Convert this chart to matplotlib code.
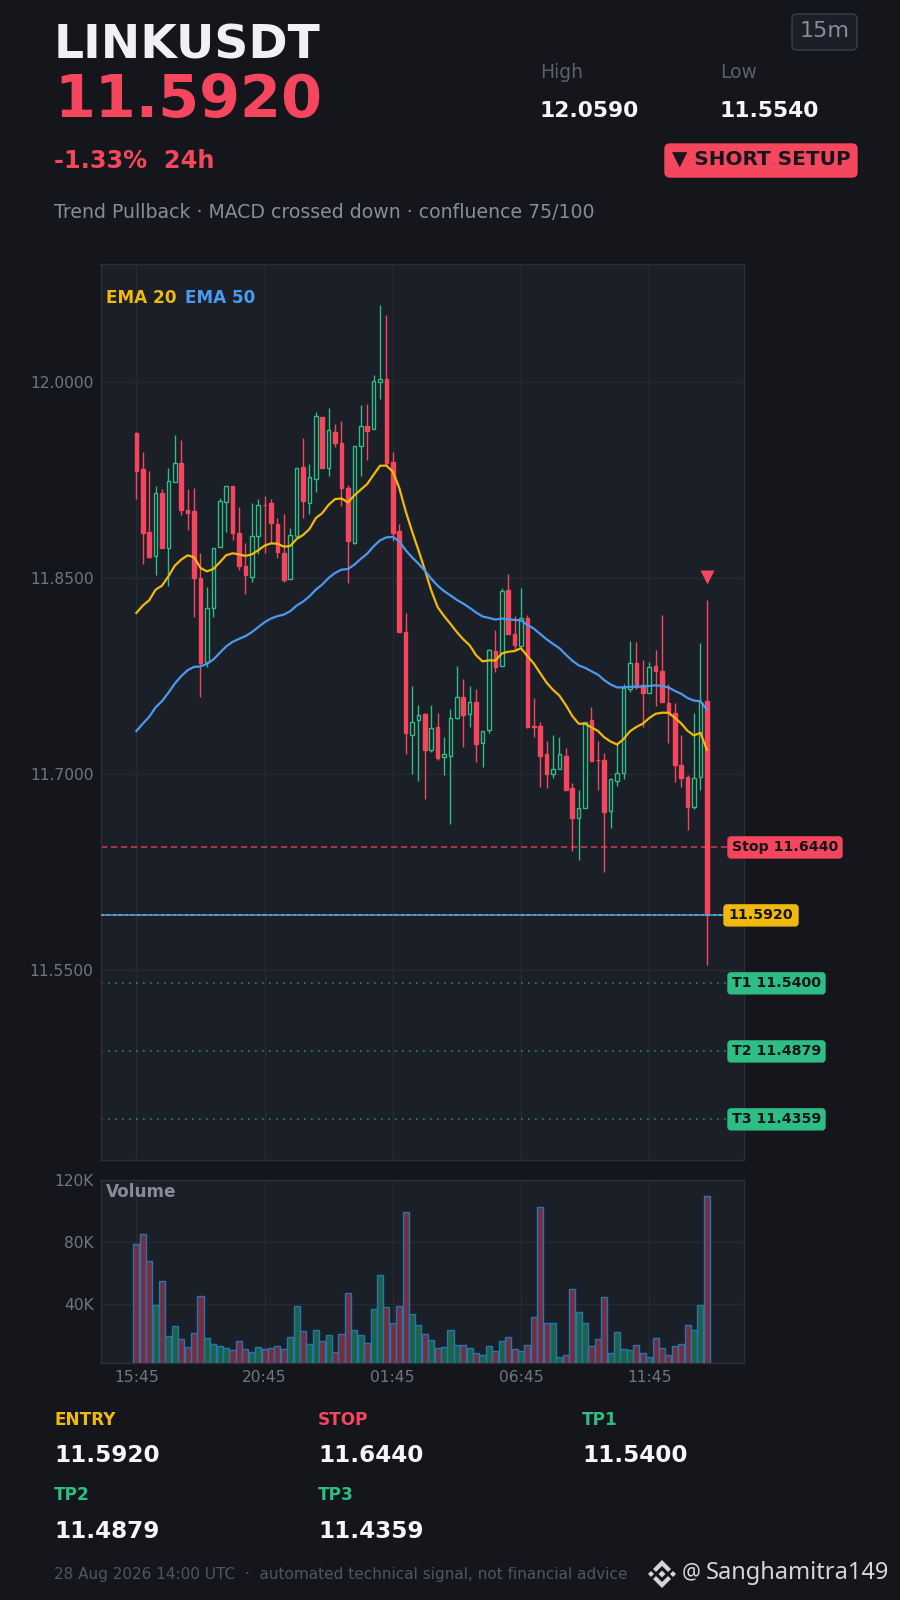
import matplotlib
matplotlib.use("Agg")
import matplotlib.pyplot as plt
from matplotlib.patches import FancyBboxPatch, Polygon
import numpy as np

symbol = "LINKUSDT"
last_price = 11.5920
entry_price = 11.5920
stop_price = 11.6440
targets = [11.5400, 11.4879, 11.4359]

opens = [11.9613, 11.9335, 11.8857, 11.8668, 11.9155, 11.8732, 11.9236, 11.9384, 11.9025, 11.9014,
         11.8503, 11.7858, 11.8273, 11.8737, 11.9083, 11.9206, 11.8846, 11.8594, 11.8508, 11.8823,
         11.9063, 11.9076, 11.8915, 11.8694, 11.8495, 11.8821, 11.9351, 11.9073, 11.9259, 11.9735,
         11.9343, 11.9618, 11.9534, 11.9190, 11.8767, 11.9511, 11.9664, 11.9639, 12.0000, 12.0023,
         11.9389, 11.8860, 11.8088, 11.7299, 11.7414, 11.7458, 11.7185, 11.7365, 11.7133, 11.7141,
         11.7430, 11.7591, 11.7460, 11.7553, 11.7239, 11.7340, 11.7943, 11.7826, 11.8410, 11.8074,
         11.7979, 11.8197, 11.7370, 11.7370, 11.7157, 11.7002, 11.7043, 11.7141, 11.6898, 11.6669,
         11.6745, 11.7417, 11.7111, 11.7111, 11.6721, 11.6950, 11.7010, 11.7651, 11.7853, 11.7684,
         11.7621, 11.7829, 11.7791, 11.7548, 11.7469, 11.7073, 11.6983, 11.6751, 11.6983, 11.7561]
closes = [11.9318, 11.8844, 11.8660, 11.9152, 11.8729, 11.9244, 11.9381, 11.9020, 11.8997, 11.8500,
          11.7848, 11.8273, 11.8732, 11.9091, 11.9206, 11.8844, 11.8592, 11.8523, 11.8823, 11.9060,
          11.9058, 11.8920, 11.8699, 11.8490, 11.8831, 11.9343, 11.9088, 11.9274, 11.9740, 11.9341,
          11.9633, 11.9539, 11.9188, 11.8783, 11.9511, 11.9664, 11.9631, 12.0008, 12.0023, 11.9386,
          11.8849, 11.8088, 11.7316, 11.7400, 11.7455, 11.7185, 11.7357, 11.7125, 11.7157, 11.7433,
          11.7591, 11.7452, 11.7553, 11.7234, 11.7332, 11.7952, 11.7821, 11.8402, 11.8074, 11.7987,
          11.8197, 11.7365, 11.7362, 11.7138, 11.7002, 11.7043, 11.7157, 11.6879, 11.6666, 11.6745,
          11.7398, 11.7100, 11.7106, 11.6712, 11.6966, 11.7010, 11.7660, 11.7853, 11.7670, 11.7621,
          11.7821, 11.7788, 11.7553, 11.7469, 11.7070, 11.6972, 11.6751, 11.6972, 11.7556, 11.5920]
highs = [11.9618, 11.9470, 11.9318, 11.9203, 11.9183, 11.9341, 11.9600, 11.9562, 11.9183, 11.9188,
         11.8694, 11.8431, 11.8732, 11.9111, 11.9206, 11.9206, 11.9043, 11.8767, 11.9073, 11.9106,
         11.9127, 11.9106, 11.8961, 11.8989, 11.8882, 11.9343, 11.9577, 11.9371, 11.9776, 11.9735,
         11.9807, 11.9679, 11.9700, 11.9211, 11.9511, 11.9830, 11.9837, 12.0054, 12.0590, 12.0517,
         11.9465, 11.8915, 11.8233, 11.7676, 11.7529, 11.7469, 11.7529, 11.7469, 11.7283, 11.7496,
         11.7829, 11.7728, 11.7676, 11.7651, 11.7332, 11.7957, 11.8102, 11.8424, 11.8533, 11.8211,
         11.8424, 11.8216, 11.7583, 11.7398, 11.7256, 11.7299, 11.7283, 11.7201, 11.6934, 11.6879,
         11.7403, 11.7512, 11.7256, 11.7163, 11.6972, 11.7242, 11.7690, 11.8017, 11.8009, 11.7875,
         11.7856, 11.7949, 11.8216, 11.7690, 11.7545, 11.7299, 11.6996, 11.7469, 11.8003, 11.8334]
lows = [11.9106, 11.8609, 11.8655, 11.8525, 11.8729, 11.8444, 11.9236, 11.8981, 11.8869, 11.8205,
        11.7593, 11.7822, 11.8205, 11.8737, 11.8854, 11.8793, 11.8561, 11.8380, 11.8472, 11.8686,
        11.8694, 11.8770, 11.8655, 11.8472, 11.8495, 11.8808, 11.8961, 11.8992, 11.9160, 11.9341,
        11.9282, 11.9504, 11.9053, 11.8464, 11.8762, 11.9282, 11.9404, 11.9639, 11.9870, 11.9369,
        11.8784, 11.8088, 11.7157, 11.7005, 11.6950, 11.6813, 11.7174, 11.7108, 11.6994, 11.6622,
        11.7425, 11.7212, 11.7365, 11.7092, 11.7059, 11.7316, 11.7782, 11.7826, 11.8074, 11.7952,
        11.7979, 11.7351, 11.7288, 11.6906, 11.6895, 11.6975, 11.7037, 11.6879, 11.6410, 11.6347,
        11.6745, 11.7100, 11.6882, 11.6251, 11.6592, 11.6912, 11.6966, 11.7632, 11.7651, 11.7365,
        11.7621, 11.7523, 11.7553, 11.7242, 11.6944, 11.6906, 11.6573, 11.6737, 11.6882, 11.5540]
ema20 = [11.8235, 11.8291, 11.8332, 11.8413, 11.8444, 11.8515, 11.8597, 11.8643, 11.8676, 11.8660,
         11.8579, 11.8553, 11.8571, 11.8622, 11.8676, 11.8691, 11.8683, 11.8671, 11.8683, 11.8714,
         11.8750, 11.8767, 11.8765, 11.8742, 11.8747, 11.8801, 11.8831, 11.8877, 11.8961, 11.8999,
         11.9063, 11.9106, 11.9111, 11.9081, 11.9134, 11.9178, 11.9221, 11.9292, 11.9361, 11.9363,
         11.9316, 11.9193, 11.9016, 11.8860, 11.8716, 11.8566, 11.8407, 11.8279, 11.8211, 11.8151,
         11.8088, 11.8033, 11.7987, 11.7911, 11.7864, 11.7872, 11.7870, 11.7924, 11.7938, 11.7943,
         11.7965, 11.7905, 11.7848, 11.7774, 11.7701, 11.7646, 11.7602, 11.7529, 11.7447, 11.7387,
         11.7387, 11.7359, 11.7332, 11.7283, 11.7250, 11.7228, 11.7269, 11.7329, 11.7362, 11.7387,
         11.7430, 11.7463, 11.7471, 11.7471, 11.7433, 11.7389, 11.7332, 11.7297, 11.7318, 11.7187]
ema50 = [11.7331, 11.7387, 11.7440, 11.7512, 11.7560, 11.7624, 11.7695, 11.7751, 11.7797, 11.7822,
         11.7825, 11.7845, 11.7878, 11.7929, 11.7978, 11.8013, 11.8036, 11.8057, 11.8087, 11.8126,
         11.8164, 11.8192, 11.8210, 11.8222, 11.8248, 11.8291, 11.8322, 11.8362, 11.8413, 11.8452,
         11.8503, 11.8541, 11.8566, 11.8571, 11.8604, 11.8648, 11.8688, 11.8744, 11.8790, 11.8813,
         11.8817, 11.8784, 11.8716, 11.8661, 11.8612, 11.8558, 11.8497, 11.8443, 11.8402, 11.8369,
         11.8334, 11.8306, 11.8274, 11.8238, 11.8208, 11.8197, 11.8184, 11.8192, 11.8186, 11.8181,
         11.8178, 11.8143, 11.8115, 11.8074, 11.8033, 11.7998, 11.7965, 11.7916, 11.7870, 11.7834,
         11.7815, 11.7788, 11.7763, 11.7720, 11.7687, 11.7665, 11.7665, 11.7670, 11.7670, 11.7673,
         11.7676, 11.7681, 11.7676, 11.7665, 11.7638, 11.7616, 11.7583, 11.7564, 11.7559, 11.7496]
volumes = [78500, 85160, 67740, 39355, 54840, 19355, 25805, 17420, 12260, 21290,
           45160, 18065, 14195, 12900, 11615, 10325, 16130, 10970, 9035, 12260,
           10970, 11615, 12900, 10970, 18710, 38710, 22580, 14195, 23225, 16130,
           20000, 9035, 20645, 47095, 23225, 20000, 14840, 36775, 58710, 38065,
           27740, 38710, 99355, 33550, 26450, 20645, 16775, 11615, 12260, 23225,
           13550, 13550, 11615, 8385, 7095, 12900, 9680, 16130, 18710, 10970,
           9680, 13550, 31615, 102580, 27740, 27740, 5805, 7095, 49675, 34840,
           27740, 12900, 17420, 44515, 8385, 21935, 10970, 10325, 13550, 8385,
           5805, 18065, 11615, 7095, 12900, 14195, 26450, 23225, 39355, 109675]
time_ticks = [0, 20, 40, 60, 80]
time_labels = ["15:45", "20:45", "01:45", "06:45", "11:45"]
price_ticks = [11.55, 11.70, 11.85, 12.00]
volume_ticks = [40000, 80000, 120000]
volume_labels = ["40K", "80K", "120K"]

BG = "#14161b"
PANEL = "#1b1f28"
GRID = "#262a33"
RED = "#f6465d"
GREEN = "#2ebd85"
YELLOW = "#f0b90b"
BLUE = "#4a9af0"
MUTED = "#6f7682"

W, H = 900, 1600

def fx(x):
    return x / W

def fy(y):
    return 1 - y / H

def txt(fig, x, y, s, color, size, weight="normal", ha="left", family="DejaVu Sans"):
    fig.text(fx(x), fy(y), s, color=color, fontsize=size, fontweight=weight, ha=ha, va="center", family=family)

def panel_axes(fig, left, top, right, bottom):
    ax = fig.add_axes([fx(left), fy(bottom), (right - left) / W, (bottom - top) / H])
    ax.set_facecolor(PANEL)
    ax.set_axisbelow(True)
    ax.grid(True, color=GRID, lw=1)
    for s in ax.spines.values():
        s.set_color("#2a2e38")
        s.set_linewidth(1)
    ax.tick_params(length=0, colors=MUTED, labelsize=11.2, pad=5)
    ax.set_xlim(-5.6, 94.75)
    ax.set_xticks(time_ticks)
    return ax

def round_box(fig, x0, y0, x1, y1, fc, ec, r=5):
    fig.add_artist(FancyBboxPatch((x0, H - y1), x1 - x0, y1 - y0, boxstyle="round,pad=0,rounding_size=%d" % r,
                                  fc=fc, ec=ec, lw=1, transform=box_trans))

def level_label(ax, price, s, color, x_px, right_px):
    # badge sits on the axes edge, y comes from the price scale
    y_px = ax.transData.transform((0, price))[1]
    fig = ax.figure
    fig.add_artist(FancyBboxPatch((x_px, y_px - 10.5), right_px - x_px, 21, boxstyle="round,pad=0,rounding_size=3",
                                  fc=color, ec=color, lw=1, transform=box_trans, zorder=6))
    fig.text(fx((x_px + right_px) / 2), (y_px + 0.5) / H, s, color="#14161b", fontsize=10.2, fontweight="bold",
             ha="center", va="center", zorder=7)

def main():
    global box_trans
    fig = plt.figure(figsize=(9, 16), dpi=100, facecolor=BG)
    box_trans = matplotlib.transforms.IdentityTransform()

    # header
    txt(fig, 54, 46, symbol, "#f0f1f5", 33.9, "bold")
    txt(fig, 54, 100, "%.4f" % last_price, RED, 42.4, "bold")
    txt(fig, 54, 161, "-1.33%  24h", RED, 17.3, "bold")
    txt(fig, 54, 213, "Trend Pullback · MACD crossed down · confluence 75/100", "#868d9a", 13.6)
    txt(fig, 540, 73, "High", "#5a606c", 13.5)
    txt(fig, 720, 73, "Low", "#5a606c", 13.5)
    txt(fig, 540, 111, "12.0590", "#f5f6f8", 15.7, "bold")
    txt(fig, 720, 111, "11.5540", "#f5f6f8", 15.7, "bold")
    round_box(fig, 792, 14, 857, 50, "#1b1f28", "#3a3f4b")
    txt(fig, 824.5, 31, "15m", "#868d9a", 16, ha="center")
    round_box(fig, 665, 144, 857, 177, RED, RED)
    txt(fig, 761, 159, "▼ SHORT SETUP", "#14161b", 14.4, "bold", ha="center")

    # price panel
    ax = panel_axes(fig, 100.5, 264.3, 743.7, 1160)
    ax.set_ylim(11.4048, 12.0903)
    ax.set_yticks(price_ticks)
    ax.set_yticklabels(["%.4f" % p for p in price_ticks])
    ax.set_xticklabels([])

    x = np.arange(len(opens))
    o, c = np.array(opens), np.array(closes)
    up = c >= o
    ax.vlines(x[up], np.array(lows)[up], np.array(highs)[up], color=GREEN, lw=1, zorder=2)
    ax.vlines(x[~up], np.array(lows)[~up], np.array(highs)[~up], color=RED, lw=1, zorder=2)
    body_low = np.minimum(o, c)
    body_h = np.abs(c - o)
    ax.bar(x[up], body_h[up], 0.56, bottom=body_low[up], facecolor=PANEL, edgecolor=GREEN, lw=1, zorder=3)
    ax.bar(x[~up], body_h[~up], 0.56, bottom=body_low[~up], facecolor=RED, edgecolor=RED, lw=1, zorder=3)

    ax.plot(x, ema20, color=YELLOW, lw=1.6, zorder=4)
    ax.plot(x, ema50, color=BLUE, lw=1.6, zorder=4)
    ax.axhline(stop_price, color=RED, lw=1.2, ls=(0, (3.8, 2.2)), alpha=0.75, zorder=1.5)
    ax.axhline(entry_price, color=YELLOW, lw=1.2, ls=(0, (1.8, 1.8)), zorder=4.5)
    ax.axhline(last_price, color=BLUE, lw=1.3, alpha=0.85, zorder=5)
    for t in targets:
        ax.axhline(t, color=GREEN, lw=1.2, ls=(0, (1, 3.2)), alpha=0.65, zorder=1.5)
    ax.plot([x[-1]], [11.851], marker="v", ms=9.5, color=RED, mec="none", zorder=6, ls="none")

    ax.text(0.0085, 0.9625, "EMA 20", color=YELLOW, fontsize=12.2, fontweight="bold", transform=ax.transAxes, va="center")
    ax.text(0.131, 0.9625, "EMA 50", color=BLUE, fontsize=12.2, fontweight="bold", transform=ax.transAxes, va="center")

    level_label(ax, stop_price, "Stop %.4f" % stop_price, RED, 728, 842)
    level_label(ax, entry_price, "%.4f" % entry_price, YELLOW, 724, 798)
    for i, t in enumerate(targets):
        level_label(ax, t, "T%d %.4f" % (i + 1, t), GREEN, 728, 825)

    # volume panel
    ax2 = panel_axes(fig, 100.5, 1180, 743.7, 1363.3)
    ax2.set_ylim(1900, 120000)
    ax2.set_yticks(volume_ticks)
    ax2.set_yticklabels(volume_labels)
    ax2.set_xticklabels(time_labels)
    cols = ["#1f6144" if u else "#7a2c3c" for u in up]
    ax2.bar(x, volumes, 0.95, color=cols, edgecolor="#1f77b4", lw=1, zorder=3)
    ax2.text(0.0085, 0.933, "Volume", color="#868d9a", fontsize=12.2, fontweight="bold", transform=ax2.transAxes, va="center")

    # levels block
    rows = [("ENTRY", entry_price, YELLOW, 54, 1420, 1455), ("STOP", stop_price, RED, 318, 1420, 1455),
            ("TP1", targets[0], GREEN, 582, 1420, 1455), ("TP2", targets[1], GREEN, 54, 1495, 1531),
            ("TP3", targets[2], GREEN, 318, 1495, 1531)]
    for name, val, col, px, py, vy in rows:
        txt(fig, px, py, name, col, 12.2, "bold")
        txt(fig, px, vy, "%.4f" % val, "#f5f6f8", 16.7, "bold")

    txt(fig, 54, 1574, "28 Aug 2026 14:00 UTC  ·  automated technical signal, not financial advice", "#505661", 11)

    # watermark logo
    cx, cy = 662, 1574
    logo = "#d4d6da"
    shapes = [[(0, -14), (9, -5), (6, -2), (0, -8), (-6, -2), (-9, -5)],
              [(0, 14), (9, 5), (6, 2), (0, 8), (-6, 2), (-9, 5)],
              [(0, -3.5), (3.5, 0), (0, 3.5), (-3.5, 0)],
              [(-14, 0), (-11, -3), (-8, 0), (-11, 3)],
              [(14, 0), (11, -3), (8, 0), (11, 3)]]
    for s in shapes:
        fig.add_artist(Polygon([(cx + a, H - (cy + b)) for a, b in s], closed=True, fc=logo, ec="none", transform=box_trans))
    txt(fig, 682, 1573, "@", logo, 15, family="Noto Sans")
    txt(fig, 706, 1573, "Sanghamitra149", logo, 17, family="Noto Sans")

    fig.savefig("out.png", dpi=100, facecolor=BG)

main()
